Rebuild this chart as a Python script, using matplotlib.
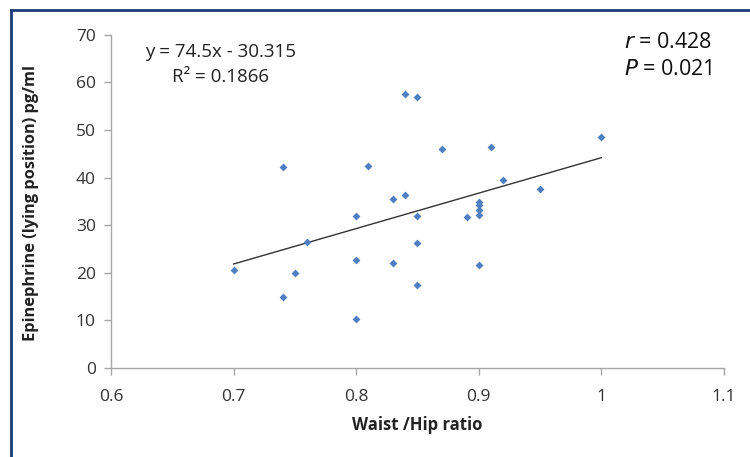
import numpy as np
import matplotlib
matplotlib.use('Agg')
import matplotlib.pyplot as plt

plt.rcParams['font.family'] = ['Open Sans', 'DejaVu Sans']

# data
whr = [0.70, 0.74, 0.74, 0.75, 0.76, 0.80, 0.80, 0.80, 0.81, 0.83, 0.83,
       0.84, 0.84, 0.85, 0.85, 0.85, 0.85, 0.87, 0.89, 0.90, 0.90, 0.90,
       0.90, 0.90, 0.91, 0.92, 0.95, 1.00]
epinephrine = [20.6, 42.3, 14.9, 20.0, 26.5, 32.0, 22.7, 10.3, 42.4, 35.6, 22.1,
               36.4, 57.6, 57.0, 31.9, 26.3, 17.5, 46.0, 31.8, 34.9, 34.2, 33.2,
               32.2, 21.7, 46.4, 39.4, 37.7, 48.5]
slope = 74.5
intercept = -30.315
x_ticks = [0.6, 0.7, 0.8, 0.9, 1.0, 1.1]
x_ticklabels = ['0.6', '0.7', '0.8', '0.9', '1', '1.1']
y_ticks = [0, 10, 20, 30, 40, 50, 60, 70]

fig = plt.figure(figsize=(7.5, 4.57), dpi=100)
ax = fig.add_axes([0.148, 0.195, 0.8173, 0.7287])

ax.scatter(whr, epinephrine, marker='D', s=16, color='#4f7fc0', zorder=3, linewidths=0)
fit_x = np.array([min(whr), max(whr)])
ax.plot(fit_x, slope * fit_x + intercept, color='#333333', lw=1.0, zorder=2)

ax.set_xlim(0.6, 1.1)
ax.set_ylim(0, 70)
ax.set_xticks(x_ticks)
ax.set_xticklabels(x_ticklabels)
ax.set_yticks(y_ticks)
for s in ['top', 'right']:
    ax.spines[s].set_visible(False)
for s in ['left', 'bottom']:
    ax.spines[s].set_color('#a6a6a6')
    ax.spines[s].set_linewidth(1.0)
ax.tick_params(axis='both', colors='#a6a6a6', labelcolor='#333333',
               labelsize=12.5, length=5, width=1.0)
ax.tick_params(axis='x', pad=10)
ax.tick_params(axis='y', pad=6)

ax.set_xlabel('Waist /Hip ratio', fontsize=12, fontweight='bold', color='#222222')
ax.set_ylabel('Epinephrine (lying position) pg/ml', fontsize=11.8, fontweight='bold',
              color='#222222')
ax.xaxis.set_label_coords(0.5, -0.145)
ax.yaxis.set_label_coords(-0.117, 0.495)

ax.text(0.055, 0.935, 'y = 74.5x - 30.315', transform=ax.transAxes, fontsize=13.5, color='#222222')
ax.text(0.1, 0.858, 'R² = 0.1866', transform=ax.transAxes, fontsize=13.5, color='#222222')

fig.text(0.832, 0.895, '$r$ = 0.428', fontsize=15.5, color='#111111')
fig.text(0.832, 0.836, '$P$ = 0.021', fontsize=15.5, color='#111111')

# dark blue frame on the left and top edges
fig.add_artist(plt.Line2D([0.014, 0.014], [0, 0.978], transform=fig.transFigure,
                          color='#1c3a78', lw=2))
fig.add_artist(plt.Line2D([0.014, 1.0], [0.978, 0.978], transform=fig.transFigure,
                          color='#1c3a78', lw=2))

fig.savefig('out.png', dpi=100)
